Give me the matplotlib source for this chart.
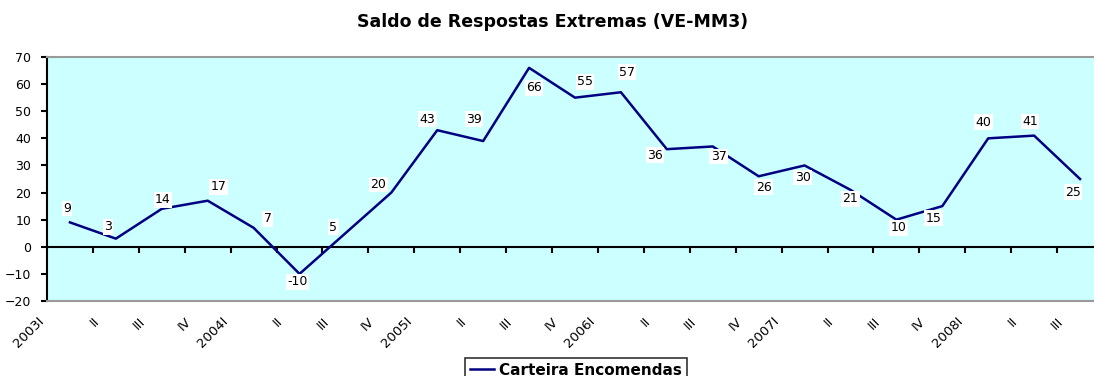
import matplotlib
matplotlib.use("Agg")
import matplotlib.pyplot as plt
from matplotlib.transforms import ScaledTranslation

# Quarterly balance of extreme responses (3-quarter moving average)
quarters = ["2003I", "II", "III", "IV",
            "2004I", "II", "III", "IV",
            "2005I", "II", "III", "IV",
            "2006I", "II", "III", "IV",
            "2007I", "II", "III", "IV",
            "2008I", "II", "III"]
carteira = [9, 3, 14, 17, 7, -10, 5, 20, 43, 39, 66, 55, 57,
            36, 37, 26, 30, 21, 10, 15, 40, 41, 25]

# label offsets from each point, in pixels (dx right, dy down)
label_offsets = [(-3, -14), (-8, -12), (1, -9), (11, -14), (14, -9),
                 (-2, 8), (-12, -6), (-13, -8), (-10, -11), (-9, -22),
                 (5, 20), (10, -16), (6, -20), (-12, 6), (6, 10),
                 (5, 11), (-2, 12), (0, 9), (2, 8), (-9, 12),
                 (-5, -16), (-4, -14), (-7, 13)]

plt.rcParams["font.family"] = ["DejaVu Sans"]

W, H, DPI = 1094, 376, 100
fig = plt.figure(figsize=(W / DPI, H / DPI), dpi=DPI)
ax = fig.add_axes([47 / W, 75 / H, 1056 / W, 244 / H])
ax.set_facecolor("#CCFFFF")

x = list(range(len(quarters)))
line, = ax.plot(x, carteira, color="#000080", lw=1.8, zorder=4,
                label="Carteira Encomendas")

px2pt = 72 / DPI
for xi, v, (dx, dy) in zip(x, carteira, label_offsets):
    ax.annotate(f"{v:d}", (xi, v), xytext=(dx * px2pt, -dy * px2pt),
                textcoords="offset points", ha="center", va="center",
                fontsize=9, color="black", zorder=5,
                bbox=dict(facecolor="white", edgecolor="none", pad=1.0))

ax.set_xlim(-0.5, len(quarters) - 0.5)
ax.set_ylim(-20, 70)
ax.set_yticks(range(-20, 71, 10))
ax.tick_params(axis="y", direction="out", length=4.3, width=1.5,
               pad=7, labelsize=9, colors="black")

# category labels along the bottom, rotated
ax.set_xticks(x, quarters)
ax.tick_params(axis="x", length=0, pad=10, labelsize=9.5)
for lbl in ax.get_xticklabels():
    lbl.set_rotation(45)
    lbl.set_ha("right")
    lbl.set_va("top")
    shift = -23 if lbl.get_text()[0].isdigit() else -14
    lbl.set_transform(lbl.get_transform()
                      + ScaledTranslation(shift / DPI, 0, fig.dpi_scale_trans))

for side in ("top", "bottom", "right"):
    ax.spines[side].set_color("#999999")
    ax.spines[side].set_linewidth(1.5)
ax.spines["left"].set_color("black")
ax.spines["left"].set_linewidth(1.5)

# category axis crossing at zero with tick marks between categories
ymin, ymax = ax.get_ylim()
sec = ax.secondary_xaxis((0 - ymin) / (ymax - ymin))
sec.set_xticks([i + 0.5 for i in x[:-1]])
sec.tick_params(axis="x", direction="out", length=4.3, width=1.5,
                labelbottom=False, labeltop=False, colors="black")
for s in sec.spines.values():
    s.set_color("black")
    s.set_linewidth(1.5)

fig.text(553 / W, 1 - 22 / H, "Saldo de Respostas Extremas (VE-MM3)",
         ha="center", va="center", fontsize=12.5, fontweight="bold")

leg = fig.legend(handles=[line], loc="upper center",
                 bbox_to_anchor=(576 / W, 1 - 358 / H), borderaxespad=0,
                 frameon=True, fancybox=False, edgecolor="black",
                 prop=dict(size=11, weight="bold"), handlelength=1.6,
                 handletextpad=0.35, borderpad=0.3)
leg.get_frame().set_linewidth(1.2)

fig.savefig("out.png", dpi=DPI)
